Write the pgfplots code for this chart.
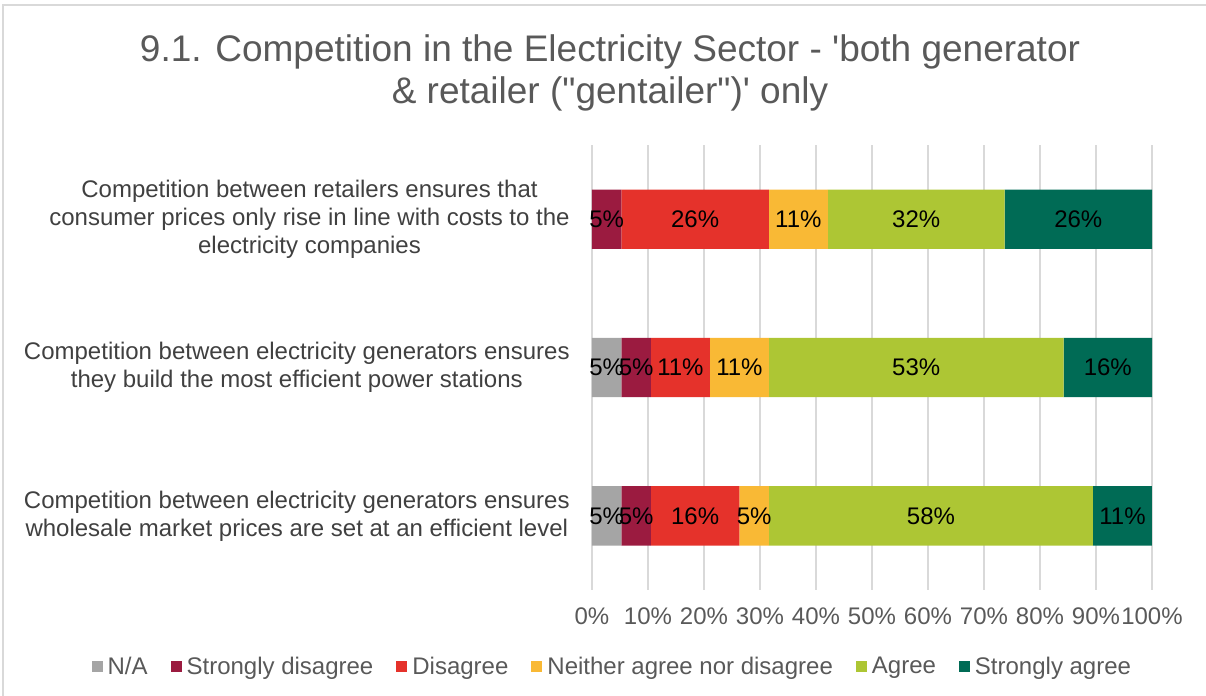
\documentclass[border=0pt]{standalone}
\usepackage{fontspec}
\setmainfont{Liberation Sans}
\usepackage{pgfplots}
\pgfplotsset{compat=1.18}
\usepackage{pgfplotstable}

\definecolor{cna}{HTML}{A5A5A5}
\definecolor{csd}{HTML}{9B1B40}
\definecolor{cd}{HTML}{E5322B}
\definecolor{cn}{HTML}{F9B935}
\definecolor{ca}{HTML}{ADC634}
\definecolor{csa}{HTML}{006B55}
\definecolor{txtgray}{HTML}{595959}
\definecolor{catgray}{HTML}{404040}
\definecolor{gridgray}{HTML}{D9D9D9}

% shares of 19 answers, in percent
\pgfplotstableread{
y na sd d n a sa
0 0 5.26 26.32 10.53 31.58 26.32
1 5.26 5.26 10.53 10.53 52.63 15.79
2 5.26 5.26 15.79 5.26 57.89 10.53
}\shares

% label positions (middle of each segment) and rounded values
\pgfplotstableread{
x y lab
2.63 0 5
18.42 0 26
36.84 0 11
57.89 0 32
86.84 0 26
2.63 1 5
7.89 1 5
15.79 1 11
26.32 1 11
57.89 1 53
92.11 1 16
2.63 2 5
7.89 2 5
18.42 2 16
28.95 2 5
60.53 2 58
94.74 2 11
}\labels

\begin{document}
\begin{tikzpicture}
\path[use as bounding box] (0,0) rectangle (603pt,-348pt);
\draw[gridgray, line width=1pt] (1.5pt,-348pt) -- (1.5pt,-2.5pt) -- (603pt,-2.5pt);

\node[align=center, font=\fontsize{18.5}{21}\selectfont, text=txtgray] at (305pt,-36.5pt)
  {9.1. Competition in the Electricity Sector - \textquotesingle both generator\\
   \& retailer (\textquotedbl gentailer\textquotedbl)\textquotesingle\ only};

\begin{axis}[
  at={(296pt,-295pt)}, anchor=south west,
  scale only axis, width=280pt, height=222.5pt,
  xbar stacked, bar width=0.4,
  xmin=0, xmax=100, ymin=-0.5, ymax=2.5, y dir=reverse,
  xtick={0,10,...,100},
  xticklabels={0\%,10\%,20\%,30\%,40\%,50\%,60\%,70\%,80\%,90\%,100\%},
  xticklabel style={font=\fontsize{12}{14}\selectfont, text=txtgray, inner sep=0pt, yshift=-8.5pt},
  ytick={0,1,2},
  yticklabels={
    {Competition between retailers ensures that\\consumer prices only rise in line with costs to the\\electricity companies},
    {Competition between electricity generators ensures\\they build the most efficient power stations},
    {Competition between electricity generators ensures\\wholesale market prices are set at an efficient level}},
  yticklabel style={align=center, font=\fontsize{12}{14}\selectfont, text=catgray, inner sep=0pt, xshift=-11pt},
  xmajorgrids, grid style={gridgray, line width=0.8pt},
  axis line style={draw=none}, major tick length=0pt,
  legend columns=-1,
  legend style={at={(0.039,-0.173)}, anchor=center, draw=none,
    font=\fontsize{12}{14}\selectfont, text=txtgray,
    nodes={inner xsep=2.5pt},
    /tikz/every even column/.append style={column sep=9pt}},
  legend image code/.code={\fill[#1, draw=none] (0pt,-2.75pt) rectangle (5.5pt,2.75pt);},
]
\addplot[fill=cna, draw=none] table[x=na, y=y] {\shares};
\addplot[fill=csd, draw=none] table[x=sd, y=y] {\shares};
\addplot[fill=cd, draw=none] table[x=d, y=y] {\shares};
\addplot[fill=cn, draw=none] table[x=n, y=y] {\shares};
\addplot[fill=ca, draw=none] table[x=a, y=y] {\shares};
\addplot[fill=csa, draw=none] table[x=sa, y=y] {\shares};
\legend{N/A, Strongly disagree, Disagree, Neither agree nor disagree, Agree, Strongly agree}
\end{axis}

\begin{axis}[
  at={(296pt,-295pt)}, anchor=south west,
  scale only axis, width=280pt, height=222.5pt,
  xmin=0, xmax=100, ymin=-0.5, ymax=2.5, y dir=reverse,
  hide axis,
]
\addplot[draw=none, mark=none, point meta=explicit symbolic,
  nodes near coords={\pgfplotspointmeta\%},
  nodes near coords style={anchor=center, font=\fontsize{12}{14}\selectfont, text=black}]
  table[x=x, y=y, meta=lab] {\labels};
\end{axis}
\end{tikzpicture}
\end{document}
